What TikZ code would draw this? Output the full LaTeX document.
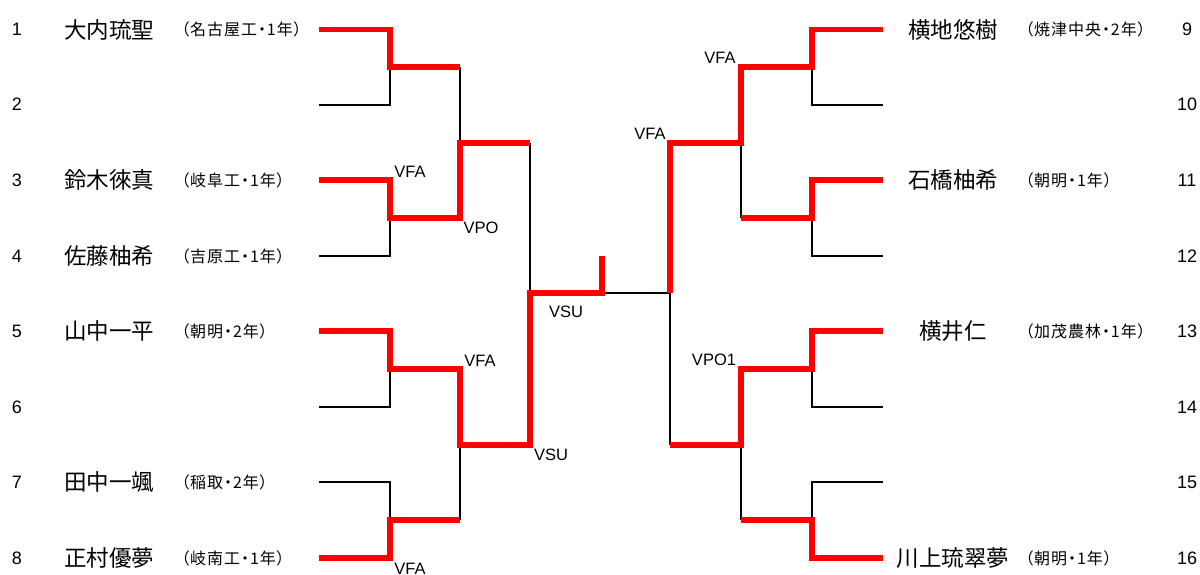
\documentclass[tikz,border=0pt]{standalone}
\usepackage{fontspec}
\setmainfont{Liberation Sans}
\newfontfamily\jp{Noto Sans CJK JP}
\newfontfamily\jpp[RawFeature=+palt,LetterSpace=6]{Noto Sans CJK JP}
\begin{document}
\begin{tikzpicture}[x=1pt,y=-1pt,
  win/.style={draw=red,line width=5.5pt,line join=miter,line cap=butt},
  lose/.style={draw=black,line width=2pt,line join=miter},
  num/.style={inner sep=0pt,font=\fontsize{18}{18}\selectfont},
  pname/.style={inner sep=0pt,font=\jp\fontsize{22.5}{22.5}\selectfont},
  school/.style={inner sep=0pt,anchor=west,font=\jpp\fontsize{16}{16}\selectfont},
  res/.style={inner sep=0pt,font=\fontsize{16.5}{16.5}\selectfont}]
\useasboundingbox[fill=white] (0,0) rectangle (1200,574);
% rows
\def\ra{29.5}\def\rb{104.5}\def\rc{180}\def\rd{256}
\def\re{331}\def\rf{407}\def\rg{482}\def\rh{558}
% left seed ends
\coordinate (s1) at (319,\ra); \coordinate (s2) at (319,\rb);
\coordinate (s3) at (319,\rc); \coordinate (s4) at (319,\rd);
\coordinate (s5) at (319,\re); \coordinate (s6) at (319,\rf);
\coordinate (s7) at (319,\rg); \coordinate (s8) at (319,\rh);
% right seed ends
\coordinate (s9) at (883,\ra); \coordinate (s10) at (883,\rb);
\coordinate (s11) at (883,\rc); \coordinate (s12) at (883,\rd);
\coordinate (s13) at (883,\re); \coordinate (s14) at (883,\rf);
\coordinate (s15) at (883,\rg); \coordinate (s16) at (883,\rh);
% left junctions
\coordinate (a1) at (390,67); \coordinate (a2) at (390,218);
\coordinate (a3) at (390,369); \coordinate (a4) at (390,520);
\coordinate (b1a) at (460,67); \coordinate (b1b) at (460,218); \coordinate (b1) at (460,143);
\coordinate (b2a) at (460,369); \coordinate (b2b) at (460,520); \coordinate (b2) at (460,445);
\coordinate (c1a) at (530,143); \coordinate (c1b) at (530,445); \coordinate (c1) at (530,293);
\coordinate (f) at (602,293); \coordinate (ftop) at (602,256);
% right junctions
\coordinate (a5) at (812,67); \coordinate (a6) at (812,218);
\coordinate (a7) at (812,369); \coordinate (a8) at (812,520);
\coordinate (b3a) at (741,67); \coordinate (b3b) at (741,218); \coordinate (b3) at (741,143);
\coordinate (b4a) at (741,369); \coordinate (b4b) at (741,520); \coordinate (b4) at (741,445);
\coordinate (c2a) at (670,143); \coordinate (c2b) at (670,445); \coordinate (c2) at (670,293);
% black lines
\draw[lose] (s2) -| (a1);
\draw[lose] (s4) -| (a2);
\draw[lose] (s6) -| (a3);
\draw[lose] (s7) -| (a4);
\draw[lose] (b1a) -- (b1);
\draw[lose] (b2) -- (b2b);
\draw[lose] (c1a) -- (c1);
\draw[lose] (f) -- (c2);
\draw[lose] (c2) -- (c2b);
\draw[lose] (b3) -- (b3b);
\draw[lose] (b4) -- (b4b);
\draw[lose] (s10) -| (a5);
\draw[lose] (s12) -| (a6);
\draw[lose] (s14) -| (a7);
\draw[lose] (s15) -| (a8);
% red lines
\draw[win] (s1) -| (a1) -- (b1a);
\draw[win] (s3) -| (a2) -- (b1b) -- (b1) -- (c1a);
\draw[win] (s5) -| (a3) -- (b2a) -- (b2) -- (c1b) -- (c1) -- (f) -- (ftop);
\draw[win] (s8) -| (a4) -- (b2b);
\draw[win] (s9) -| (a5) -- (b3a) -- (b3) -- (c2a) -- (c2);
\draw[win] (s11) -| (a6) -- (b3b);
\draw[win] (s13) -| (a7) -- (b4a) -- (b4) -- (c2b);
\draw[win] (s16) -| (a8) -- (b4b);
% result labels
\node[res] (l1) at (410,172) {VFA};
\node[res] (l2) at (481,228) {VPO};
\node[res] (l3) at (566,312) {VSU};
\node[res] (l4) at (480,361) {VFA};
\node[res] (l5) at (551,455) {VSU};
\node[res] (l6) at (410,569) {VFA};
\node[res] (l7) at (720,58) {VFA};
\node[res] (l8) at (650,134) {VFA};
\node[res] (l9) at (714,360) {VPO1};
% left numbers
\node[num] (n1) at (17,\ra) {1};
\node[num] (n2) at (17,\rb) {2};
\node[num] (n3) at (17,\rc) {3};
\node[num] (n4) at (17,\rd) {4};
\node[num] (n5) at (17,\re) {5};
\node[num] (n6) at (17,\rf) {6};
\node[num] (n7) at (17,\rg) {7};
\node[num] (n8) at (17,\rh) {8};
% right numbers
\node[num] (n9) at (1187,\ra) {9};
\node[num] (n10) at (1187,\rb) {10};
\node[num] (n11) at (1187,\rc) {11};
\node[num] (n12) at (1187,\rd) {12};
\node[num] (n13) at (1187,\re) {13};
\node[num] (n14) at (1187,\rf) {14};
\node[num] (n15) at (1187,\rg) {15};
\node[num] (n16) at (1187,\rh) {16};
% left names
\node[pname] (p1) at (109,\ra) {大内琉聖};
\node[pname] (p3) at (109,\rc) {鈴木徠真};
\node[pname] (p4) at (109,\rd) {佐藤柚希};
\node[pname] (p5) at (109,\re) {山中一平};
\node[pname] (p7) at (109,\rg) {田中一颯};
\node[pname] (p8) at (109,\rh) {正村優夢};
\node[school] (q1) at (181,\ra) {（名古屋工・1年）};
\node[school] (q3) at (181,\rc) {（岐阜工・1年）};
\node[school] (q4) at (181,\rd) {（吉原工・1年）};
\node[school] (q5) at (181,\re) {（朝明・2年）};
\node[school] (q7) at (181,\rg) {（稲取・2年）};
\node[school] (q8) at (181,\rh) {（岐南工・1年）};
% right names
\node[pname] (p9) at (953,\ra) {横地悠樹};
\node[pname] (p11) at (953,\rc) {石橋柚希};
\node[pname] (p13) at (953,\re) {横井仁};
\node[pname] (p16) at (953,\rh) {川上琉翠夢};
\node[school] (q9) at (1025,\ra) {（焼津中央・2年）};
\node[school] (q11) at (1025,\rc) {（朝明・1年）};
\node[school] (q13) at (1025,\re) {（加茂農林・1年）};
\node[school] (q16) at (1025,\rh) {（朝明・1年）};
\end{tikzpicture}
\end{document}
